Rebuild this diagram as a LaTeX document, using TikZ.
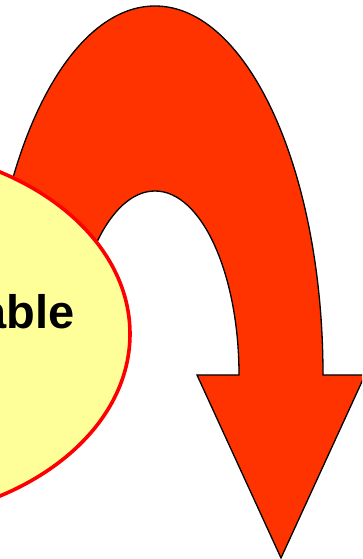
\documentclass[tikz,border=0pt]{standalone}
\usepackage{fontspec}
\setmainfont{Liberation Sans}
\usepackage{tikz}
\usetikzlibrary{positioning}
\definecolor{UTRed}{HTML}{FF3300}
\definecolor{UTYellow}{HTML}{FFFF99}
\definecolor{UTBorder}{HTML}{FF0000}

\begin{document}
\begin{tikzpicture}[
    x=1pt, y=1pt,
    utarrow/.style={
      fill=UTRed,
      draw=black,
      line width=1.3pt,
      line join=miter
    },
    utblob/.style={
      fill=UTYellow,
      draw=UTBorder,
      line width=3.6pt
    },
    utlabel/.style={
      font=\bfseries\fontsize{47}{50}\selectfont,
      inner sep=0pt,
      anchor=base east
    }
  ]
  \useasboundingbox (0,0) rectangle (362,559);
  \clip (0,0) rectangle (362,559);

  % gebogener Pfeil
  \coordinate (shoulderL) at (197,184);
  \coordinate (shoulderR) at (365,184);
  \coordinate (tip) at (281,1);
  \draw[utarrow] (shoulderL) -- (239,184)
    arc[start angle=0, end angle=180, x radius=84, y radius=184]
    -- (-13,184)
    arc[start angle=180, end angle=0, x radius=168, y radius=369]
    -- (shoulderR) -- (tip) -- cycle;

  % Ellipse links
  \draw[utblob] (-130,225) ellipse[x radius=260, y radius=187];
  \node[utlabel] (lbl) at (75,230) {able};

\end{tikzpicture}
\end{document}
